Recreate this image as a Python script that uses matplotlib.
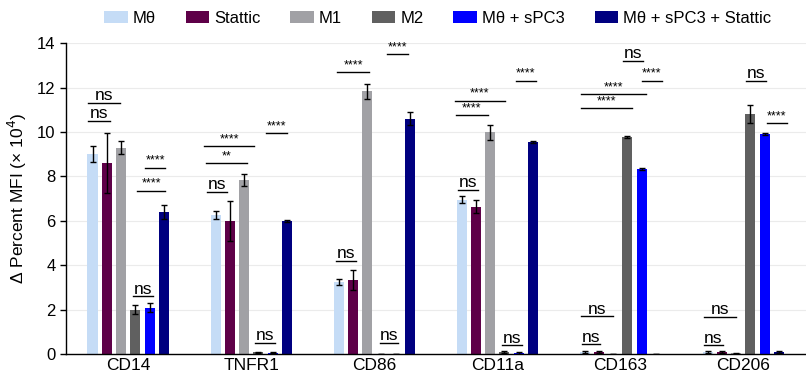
import matplotlib
matplotlib.use("Agg")
import matplotlib.pyplot as plt
import numpy as np

plt.rcParams['font.family'] = ['Liberation Sans', 'DejaVu Sans']

groups = ['CD14', 'TNFR1', 'CD86', 'CD11a', 'CD163', 'CD206']
series = ['Mθ', 'Stattic', 'M1', 'M2', 'Mθ + sPC3', 'Mθ + sPC3 + Stattic']
colors = ['#c5dcf6', '#5e0048', '#a1a1a5', '#606060', '#0000ff', '#000080']

m_theta = [9.0, 6.28, 3.25, 6.95, 0.10, 0.10]
stattic = [8.6, 6.0, 3.35, 6.64, 0.10, 0.10]
m1 = [9.3, 7.83, 11.83, 9.98, 0.02, 0.05]
m2 = [2.0, 0.08, 0.0, 0.10, 9.76, 10.8]
spc3 = [2.1, 0.07, 0.0, 0.05, 8.35, 9.9]
spc3_stattic = [6.4, 6.0, 10.6, 9.55, 0.0, 0.10]

m_theta_err = [0.35, 0.18, 0.15, 0.15, 0.03, 0.03]
stattic_err = [1.35, 0.9, 0.45, 0.3, 0.04, 0.04]
m1_err = [0.28, 0.27, 0.35, 0.35, 0.0, 0.02]
m2_err = [0.2, 0.03, 0.0, 0.04, 0.05, 0.4]
spc3_err = [0.2, 0.03, 0.0, 0.03, 0.05, 0.05]
spc3_stattic_err = [0.3, 0.05, 0.3, 0.05, 0.0, 0.04]

values = [m_theta, stattic, m1, m2, spc3, spc3_stattic]
errors = [m_theta_err, stattic_err, m1_err, m2_err, spc3_err, spc3_stattic_err]

# significance annotations: (group, from bar index, to bar index, height, label)
annotations = [
    (0, -0.3, 1.94, 11.3, 'ns'), (0, -0.3, 1.24, 10.5, 'ns'),
    (0, 3.69, 5.09, 8.4, '****'), (0, 3.13, 5.09, 7.36, '****'),
    (0, 2.85, 4.25, 2.6, 'ns'),
    (1, -0.58, 0.81, 7.3, 'ns'), (1, -0.65, 2.21, 8.6, '**'),
    (1, -0.79, 2.7, 9.35, '****'), (1, 3.54, 5.0, 9.94, '****'),
    (1, 2.77, 4.17, 0.5, 'ns'),
    (2, -0.2, 1.2, 4.2, 'ns'), (2, -0.1, 2.14, 12.7, '****'),
    (2, 3.4, 4.9, 13.5, '****'), (2, 2.9, 4.2, 0.5, 'ns'),
    (3, -0.25, 1.15, 7.4, 'ns'), (3, -0.4, 1.85, 10.75, '****'),
    (3, -0.46, 3.04, 11.4, '****'), (3, 3.8, 5.2, 12.3, '****'),
    (3, 2.83, 4.2, 0.4, 'ns'),
    (4, -0.2, 1.1, 0.45, 'ns'), (4, -0.26, 1.98, 1.7, 'ns'),
    (4, -0.26, 3.3, 11.07, '****'), (4, -0.26, 4.3, 11.7, '****'),
    (4, 4.0, 5.4, 12.3, '****'), (4, 2.7, 4.1, 13.2, 'ns'),
    (5, -0.25, 1.06, 0.4, 'ns'), (5, -0.25, 1.98, 1.67, 'ns'),
    (5, 4.14, 5.54, 10.4, '****'), (5, 2.67, 4.07, 12.3, 'ns'),
]

fig = plt.figure(figsize=(8.06, 3.78), dpi=100)
ax = fig.add_axes([0.082, 0.063, 0.918, 0.823])

step = 0.116
width = 0.082
x = np.arange(len(groups))
for i, (name, vals, errs, c) in enumerate(zip(series, values, errors, colors)):
    pos = x + (i - 2.5) * step
    ax.bar(pos, vals, width, color=c, label=name, zorder=2)
    ax.errorbar(pos, vals, yerr=errs, fmt='none', ecolor='black',
                elinewidth=1.0, capsize=2.5, capthick=1.0, zorder=3)

for g, a, b, y, lab in annotations:
    x0 = g + (a - 2.5) * step
    x1 = g + (b - 2.5) * step
    ax.plot([x0, x1], [y, y], color='black', lw=1.0, zorder=4)
    if lab == 'ns':
        ax.text((x0 + x1) / 2, y + 0.12, lab, ha='center', va='baseline',
                fontsize=12.5)
    else:
        ax.text((x0 + x1) / 2, y + 0.18, lab, ha='center', va='baseline',
                fontsize=9)

ax.set_xlim(-0.505, 5.51)
ax.set_ylim(0, 14)
ax.set_yticks(range(0, 15, 2))
ax.set_xticks(x)
ax.set_xticklabels(groups, fontsize=12.5)
ax.tick_params(axis='x', length=0, pad=3)
ax.tick_params(axis='y', labelsize=12, length=4, width=1)
ax.set_ylabel('Δ Percent MFI (× 10$^4$)', fontsize=12.5, labelpad=6)
ax.yaxis.grid(True, color='#ebebeb', lw=0.8, zorder=0)
ax.set_axisbelow(True)
for s in ['top', 'right']:
    ax.spines[s].set_visible(False)
for s in ['left', 'bottom']:
    ax.spines[s].set_linewidth(1.0)

fig.legend(loc='center', bbox_to_anchor=(0.543, 0.952), ncol=6,
           frameon=False, fontsize=12, handlelength=1.4, handleheight=0.8,
           columnspacing=1.8, handletextpad=0.3)

fig.savefig('out.png', dpi=100)
